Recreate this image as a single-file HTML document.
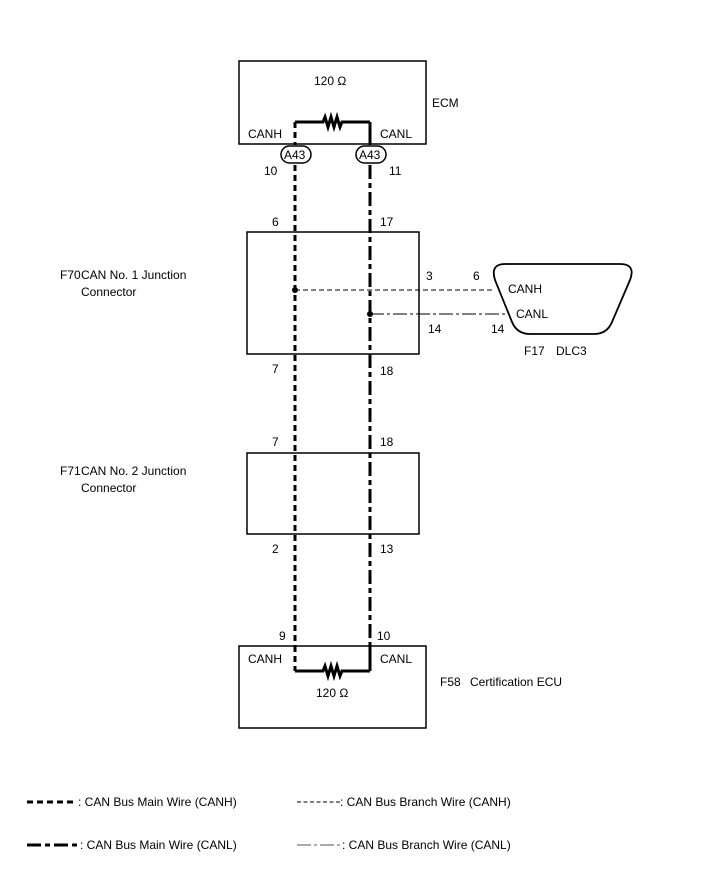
<!DOCTYPE html>
<html><head><meta charset="utf-8"><style>
html,body{margin:0;padding:0;background:#fff;}
svg{display:block;}
text{font-family:"Liberation Sans",Arial,sans-serif;font-size:12px;fill:#000;}
</style></head><body>
<svg width="713" height="882" viewBox="0 0 713 882" xmlns="http://www.w3.org/2000/svg">
<!-- ECM -->
<rect x="239" y="61" width="187" height="83" fill="none" stroke="#000" stroke-width="1.5"/>
<text x="314" y="85">120 Ω</text>
<text x="432" y="107">ECM</text>
<text x="248" y="138">CANH</text>
<text x="380" y="138">CANL</text>
<path d="M295 122 H323 l2 -5 l3 10 l3 -10 l3 10 l3 -10 l3 10 l2 -5 H370" fill="none" stroke="#000" stroke-width="3"/>
<line x1="370" y1="122" x2="370" y2="145" stroke="#000" stroke-width="3"/>
<line x1="295" y1="122" x2="295" y2="145" stroke="#000" stroke-width="3" stroke-dasharray="6,4"/>
<rect x="281" y="146" width="30" height="17" rx="8.5" fill="#fff" stroke="#000" stroke-width="1.5"/>
<rect x="356" y="146" width="30" height="17" rx="8.5" fill="#fff" stroke="#000" stroke-width="1.5"/>
<text x="284" y="159">A43</text>
<text x="359" y="159">A43</text>
<text x="264" y="175">10</text>
<text x="389" y="175">11</text>
<!-- main wires -->
<line x1="295" y1="165" x2="295" y2="646" stroke="#000" stroke-width="3" stroke-dasharray="6,4"/>
<line x1="370" y1="165" x2="370" y2="646" stroke="#000" stroke-width="3" stroke-dasharray="14,4,5,4"/>
<!-- F70 -->
<rect x="247" y="232" width="172" height="122" fill="none" stroke="#000" stroke-width="1.5"/>
<text x="272" y="226">6</text>
<text x="380" y="226">17</text>
<text x="272" y="373">7</text>
<text x="380" y="375">18</text>
<text x="60" y="279">F70</text>
<text x="81" y="279">CAN No. 1 Junction</text>
<text x="81" y="296">Connector</text>
<line x1="295" y1="290" x2="494" y2="290" stroke="#000" stroke-width="1" stroke-dasharray="5,3"/>
<line x1="370" y1="314" x2="508" y2="314" stroke="#000" stroke-width="1" stroke-dasharray="14,3,3,3"/>
<circle cx="295" cy="290" r="3" fill="#000"/>
<circle cx="370" cy="314" r="3" fill="#000"/>
<text x="426" y="280">3</text>
<text x="473" y="280">6</text>
<text x="428" y="333">14</text>
<text x="491" y="333">14</text>
<!-- DLC3 -->
<path d="M505 264 H620 Q636 264 630 280 L612 322 Q607 334 594 334 H530 Q517 334 512 322 L495 280 Q490 264 505 264 Z" fill="none" stroke="#000" stroke-width="1.8"/>
<text x="508" y="293">CANH</text>
<text x="516" y="318">CANL</text>
<text x="524" y="355">F17</text>
<text x="556" y="355">DLC3</text>
<!-- F71 -->
<rect x="247" y="453" width="172" height="81" fill="none" stroke="#000" stroke-width="1.5"/>
<text x="272" y="446">7</text>
<text x="380" y="446">18</text>
<text x="272" y="553">2</text>
<text x="380" y="553">13</text>
<text x="60" y="475">F71</text>
<text x="81" y="475">CAN No. 2 Junction</text>
<text x="81" y="492">Connector</text>
<!-- F58 -->
<rect x="239" y="646" width="187" height="82" fill="#fff" stroke="#000" stroke-width="1.5"/>
<line x1="295" y1="646" x2="295" y2="671" stroke="#000" stroke-width="3" stroke-dasharray="6,4"/>
<line x1="370" y1="646" x2="370" y2="671" stroke="#000" stroke-width="3"/>
<path d="M295 671 H323 l2 -5 l3 10 l3 -10 l3 10 l3 -10 l3 10 l2 -5 H370" fill="none" stroke="#000" stroke-width="3"/>
<text x="279" y="640">9</text>
<text x="377" y="640">10</text>
<text x="248" y="663">CANH</text>
<text x="380" y="663">CANL</text>
<text x="316" y="697">120 Ω</text>
<text x="440" y="686">F58</text>
<text x="470" y="686">Certification ECU</text>
<!-- legend -->
<line x1="27" y1="802" x2="76" y2="802" stroke="#000" stroke-width="3" stroke-dasharray="6,4"/>
<text x="78" y="806">: CAN Bus Main Wire (CANH)</text>
<line x1="27" y1="845" x2="78" y2="845" stroke="#000" stroke-width="3" stroke-dasharray="14,4,5,4"/>
<text x="80" y="849">: CAN Bus Main Wire (CANL)</text>
<line x1="297" y1="802" x2="340" y2="802" stroke="#000" stroke-width="1" stroke-dasharray="4,2.5"/>
<text x="340" y="806">: CAN Bus Branch Wire (CANH)</text>
<line x1="297" y1="845" x2="342" y2="845" stroke="#555" stroke-width="1" stroke-dasharray="14,3,3,3"/>
<text x="342" y="849">: CAN Bus Branch Wire (CANL)</text>
</svg>
</body></html>
